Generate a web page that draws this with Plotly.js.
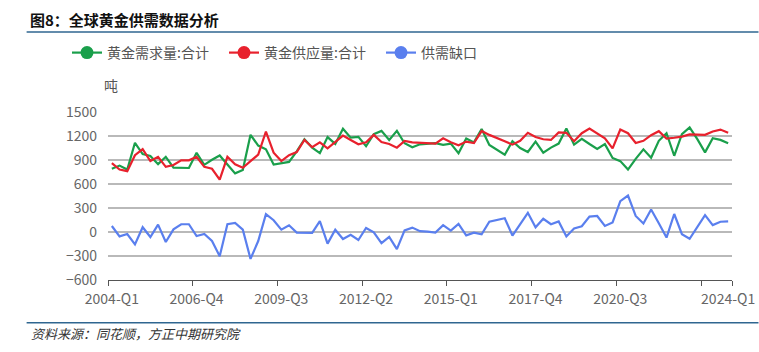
<!DOCTYPE html>
<html><head><meta charset="utf-8">
<script src="https://cdn.plot.ly/plotly-3.0.1.min.js"></script>
<style>html,body{margin:0;padding:0;background:#fff}#chart{width:759px;height:352px}</style>
</head><body><div id="chart"></div>
<script>
// Categories: quarters 2004-Q1 .. 2024-Q1
const quarters = [];
for (let y = 2004; y <= 2024; y++) for (let q = 1; q <= 4; q++) { if (y === 2024 && q > 1) break; quarters.push(y + '-Q' + q); }

// 黄金需求量:合计 (吨)
const demand = [790,830,780,1115,975,950,848,940,805,800,
  800,990,840,903,957,843,733,774,1215,1080,
  1033,844,858,876,1008,1160,1055,985,1186,1101,
  1290,1180,1190,1072,1222,1264,1150,1264,1109,1060,
  1096,1100,1110,1090,1105,985,1170,1120,1288,1088,
  1025,965,1135,1050,1000,1130,992,1055,1105,1295,
  1092,1165,1100,1038,1098,925,886,780,915,1033,
  928,1140,1235,953,1222,1308,1160,995,1172,1151,
  1109];
// 黄金供应量:合计 (吨)
const supply = [860,780,760,960,1035,887,940,815,838,896,
  896,940,815,790,655,940,846,803,885,967,
  1256,991,887,960,1000,1150,1060,1121,1046,1130,
  1205,1151,1096,1121,1214,1125,1100,1054,1138,1121,
  1115,1110,1105,1172,1122,1085,1130,1112,1262,1214,
  1178,1135,1092,1140,1240,1188,1159,1151,1245,1240,
  1135,1235,1292,1235,1172,1046,1280,1235,1113,1140,
  1210,1260,1168,1178,1193,1220,1214,1214,1256,1280,
  1240];
// 供需缺口 (吨)
const gap = [75,-55,-25,-155,60,-63,92,-125,33,97,
  97,-50,-25,-113,-302,97,113,29,-336,-113,
  223,147,29,84,-8,-13,-10,135,-145,29,
  -88,-35,-100,50,-5,-139,-60,-215,20,55,
  10,5,-8,85,17,100,-42,-8,-28,130,
  153,172,-44,95,240,58,165,97,132,-55,
  45,72,192,200,76,120,385,455,200,107,
  282,110,-70,225,-28,-85,57,210,86,128,
  132];

const seriesNames = ['黄金需求量:合计', '黄金供应量:合计', '供需缺口'];
const seriesColors = ['#1a9f4b', '#e8212d', '#5a7fee'];
const labelStep = 11;
const yTicks = [-600, -300, 0, 300, 600, 900, 1200, 1500];

const W = 759, H = 352;
const L = 108.4, R = 26.5, T = 112.3, B = 72;
const pw = W - L - R, ph = H - T - B;
const px = x => (x - L) / pw;
const py = y => (H - B - y) / ph;

const idx = quarters.map((_, i) => i);
const n = quarters.length;

// label positions (category centres) and boundary ticks
const labelVals = [], labelText = [];
for (let i = 0; i < n; i += labelStep) { labelVals.push(i); labelText.push(i === 77 ? '' : quarters[i]); }
labelVals.push(n - 1); labelText.push(quarters[n - 1]);
const tickVals = labelVals.slice(0, -1).map(v => v - 0.5).concat([n - 0.5]);

const font = 'Noto Sans CJK SC, Noto Sans, sans-serif';
const data = [demand, supply, gap].map((s, k) => ({
  x: idx, y: s, type: 'scatter', mode: 'lines', name: seriesNames[k],
  line: {color: seriesColors[k], width: 2.2}, showlegend: false, hoverinfo: 'x+y'
}));
seriesNames.forEach((nm, k) => data.push({
  x: [null], y: [null], type: 'scatter', mode: 'lines+markers', name: nm,
  line: {color: seriesColors[k], width: 2.2}, marker: {color: seriesColors[k], size: 13}, showlegend: true
}));
// boundary ticks on an overlaid axis
data.push({x: [0], y: [null], xaxis: 'x2', yaxis: 'y', showlegend: false, hoverinfo: 'skip', mode: 'lines'});

const layout = {
  width: W, height: H, margin: {l: L, r: R, t: T, b: B, pad: 0},
  paper_bgcolor: '#fff', plot_bgcolor: '#fff',
  font: {family: font, size: 14, color: '#666'},
  showlegend: true,
  legend: {orientation: 'h', xref: 'container', yref: 'container', x: 67 / W, y: 1 - 37 / H,
    xanchor: 'left', yanchor: 'top', font: {size: 14, color: '#555', family: font},
    entrywidth: 112, entrywidthmode: 'pixels', bgcolor: 'rgba(0,0,0,0)', itemclick: false},
  xaxis: {range: [-0.5, n - 0.5], tickvals: labelVals, ticktext: labelText, ticks: '',
    showgrid: false, zeroline: false, showline: false, ticklabelstandoff: 9,
    tickfont: {size: 14, color: '#666', family: font}},
  xaxis2: {overlaying: 'x', range: [-0.5, n - 0.5], tickvals: tickVals, ticktext: tickVals.map(() => ''),
    ticks: 'outside', ticklen: 5, tickcolor: '#555', tickwidth: 1, showline: true, linecolor: '#555', linewidth: 1,
    showgrid: false, zeroline: false, side: 'bottom', anchor: 'y'},
  yaxis: {range: [-600, 1500], tickvals: yTicks, showgrid: true, gridcolor: '#b9b9b9', gridwidth: 1.3,
    zeroline: false, showline: false, ticks: '', ticklabelstandoff: 10,
    tickfont: {size: 14, color: '#666', family: font}},
  shapes: [
    {type: 'line', xref: 'paper', yref: 'paper', x0: px(27), x1: px(759), y0: py(32.5), y1: py(32.5), line: {color: '#2f6690', width: 1.6}},
    {type: 'line', xref: 'paper', yref: 'paper', x0: px(27), x1: px(759), y0: py(322.7), y1: py(322.7), line: {color: '#2f6690', width: 1.6}}
  ],
  annotations: [
    {text: '图8：全球黄金供需数据分析', xref: 'paper', yref: 'paper', x: px(28), y: py(20), xanchor: 'left', yanchor: 'middle',
      showarrow: false, font: {family: font, size: 15, color: '#111', weight: 'bold'}},
    {text: '吨', xref: 'paper', yref: 'paper', x: px(102), y: py(85), xanchor: 'left', yanchor: 'middle',
      showarrow: false, font: {family: font, size: 14, color: '#555'}},
    {text: '资料来源：同花顺，方正中期研究院', xref: 'paper', yref: 'paper', x: px(29), y: py(333), xanchor: 'left', yanchor: 'middle',
      showarrow: false, font: {family: font, size: 13, color: '#333', style: 'italic'}}
  ]
};
Plotly.newPlot('chart', data, layout, {displayModeBar: false, staticPlot: true});
</script></body></html>
